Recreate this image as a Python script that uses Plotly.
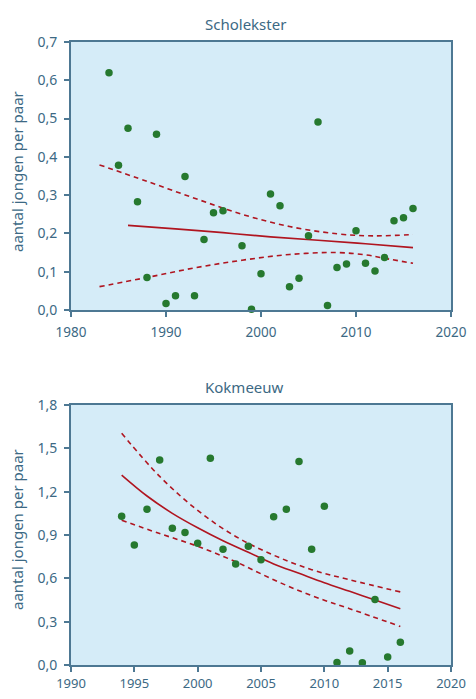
import plotly.graph_objects as go

# ---------------- Scholekster ----------------
sch_years = [1984, 1985, 1986, 1987, 1988, 1989, 1990, 1991, 1992, 1993, 1994, 1995, 1996,
             1998, 1999, 2000, 2001, 2002, 2003, 2004, 2005, 2006, 2007, 2008, 2009, 2010,
             2011, 2012, 2013, 2014, 2015, 2016]
sch_values = [0.620, 0.378, 0.475, 0.283, 0.085, 0.459, 0.017, 0.037, 0.349, 0.037, 0.184, 0.254,
              0.259, 0.168, 0.002, 0.095, 0.303, 0.272, 0.061, 0.083, 0.194, 0.491, 0.012, 0.111,
              0.120, 0.207, 0.122, 0.102, 0.137, 0.233, 0.241, 0.265]
sch_trend_years = [1986, 1991, 1996, 2001, 2006, 2011, 2016]
sch_trend = [0.221, 0.212, 0.202, 0.191, 0.182, 0.173, 0.163]
sch_ci_years = [1983, 1988, 1993, 1998, 2003, 2008, 2011, 2013, 2016]
sch_upper = [0.379, 0.336, 0.292, 0.250, 0.218, 0.199, 0.194, 0.194, 0.197]
sch_lower = [0.061, 0.085, 0.110, 0.130, 0.145, 0.150, 0.144, 0.135, 0.122]

# ---------------- Kokmeeuw ----------------
kok_years = [1994, 1995, 1996, 1997, 1998, 1999, 2000, 2001, 2002, 2003, 2004, 2005, 2006,
             2007, 2008, 2009, 2010, 2011, 2012, 2013, 2014, 2015, 2016]
kok_values = [1.029, 0.831, 1.079, 1.420, 0.946, 0.917, 0.843, 1.431, 0.802, 0.699, 0.822, 0.728,
              1.027, 1.079, 1.409, 0.802, 1.099, 0.018, 0.097, 0.016, 0.454, 0.056, 0.157]
kok_trend_years = [1994, 1996, 1998, 2000, 2002, 2004, 2006, 2008, 2010, 2012, 2014, 2016]
kok_trend = [1.315, 1.170, 1.050, 0.950, 0.860, 0.780, 0.700, 0.635, 0.570, 0.510, 0.450, 0.390]
kok_ci_years = [1994, 1997, 2000, 2003, 2006, 2009, 2012, 2016]
kok_upper = [1.604, 1.306, 1.070, 0.890, 0.760, 0.660, 0.590, 0.506]
kok_lower = [1.002, 0.910, 0.822, 0.715, 0.590, 0.480, 0.390, 0.267]

y_title = "aantal jongen per paar"

# page body has an 8px margin; figure sized to fit the 476x699 window
OFF = 8
W, H = 476 - 2 * OFF, 699 - 2 * OFF
BG = "#d5ecf8"
AX = "#4d7893"
TXT = "#3c6984"
DOT = "#26792f"
LINE = "#b01520"
FONT = "Noto Sans, Open Sans, sans-serif"


def px(x):
    return (x - OFF) / W


def py(y):
    return 1 - (y - OFF) / H


fig = go.Figure()


def add_panel(xa, ya, years, vals, ty, tv, cy, cu, cl):
    fig.add_trace(go.Scatter(x=cy, y=cu, mode="lines", xaxis=xa, yaxis=ya,
                             line=dict(color=LINE, width=1.6, dash="5px,4px", shape="spline"),
                             showlegend=False, hoverinfo="skip"))
    fig.add_trace(go.Scatter(x=cy, y=cl, mode="lines", xaxis=xa, yaxis=ya,
                             line=dict(color=LINE, width=1.6, dash="5px,4px", shape="spline"),
                             showlegend=False, hoverinfo="skip"))
    fig.add_trace(go.Scatter(x=ty, y=tv, mode="lines", xaxis=xa, yaxis=ya,
                             line=dict(color=LINE, width=1.6, shape="spline"),
                             showlegend=False))
    fig.add_trace(go.Scatter(x=years, y=vals, mode="markers", xaxis=xa, yaxis=ya,
                             marker=dict(color=DOT, size=7.5),
                             showlegend=False, cliponaxis=False))


add_panel("x", "y", sch_years, sch_values, sch_trend_years, sch_trend,
          sch_ci_years, sch_upper, sch_lower)
add_panel("x2", "y2", kok_years, kok_values, kok_trend_years, kok_trend,
          kok_ci_years, kok_upper, kok_lower)

xd = [px(71), px(451)]
top_dom = [py(310), py(42)]
bot_dom = [py(665), py(405)]

axis_common = dict(showline=True, linecolor=AX, linewidth=2, mirror=True,
                   ticks="outside", ticklen=5, tickwidth=2, tickcolor=AX,
                   showgrid=False, zeroline=False, automargin=False,
                   ticklabeloverflow="allow")
tick_font = dict(family=FONT, size=14, color=TXT)

fig.update_layout(
    width=W, height=H,
    margin=dict(l=0, r=0, t=0, b=0, pad=0),
    paper_bgcolor="white",
    separators=",.",
    font=dict(family=FONT, color=TXT),
    xaxis=dict(domain=xd, anchor="y", range=[1980, 2020], tickvals=[1980, 1990, 2000, 2010, 2020],
               tickfont=dict(family=FONT, size=13.5, color=TXT), ticklabelstandoff=4,
               **axis_common),
    yaxis=dict(domain=top_dom, anchor="x", range=[0, 0.7],
               tickvals=[0, 0.1, 0.2, 0.3, 0.4, 0.5, 0.6, 0.7],
               tickformat=".1f", tickfont=tick_font, ticklabelstandoff=4, **axis_common),
    xaxis2=dict(domain=xd, anchor="y2", range=[1990, 2020],
                tickvals=[1990, 1995, 2000, 2005, 2010, 2015, 2020],
                tickfont=dict(family=FONT, size=13, color=TXT), ticklabelstandoff=0,
                **axis_common),
    yaxis2=dict(domain=bot_dom, anchor="x2", range=[0, 1.8],
                tickvals=[0, 0.3, 0.6, 0.9, 1.2, 1.5, 1.8], tickformat=".1f",
                tickfont=tick_font, ticklabelstandoff=4, **axis_common),
    plot_bgcolor=BG,
)

titles = [("Scholekster", 245, 24), ("Kokmeeuw", 244, 387)]
for text, x, y in titles:
    fig.add_annotation(xref="paper", yref="paper", x=px(x), y=py(y), text=text,
                       showarrow=False, xanchor="center", yanchor="middle",
                       font=dict(family=FONT, size=15, color=TXT))
for yc in [172, 530]:
    fig.add_annotation(xref="paper", yref="paper", x=px(17), y=py(yc), text=y_title,
                       showarrow=False, textangle=-90, xanchor="center", yanchor="middle",
                       font=dict(family=FONT, size=15, color=TXT))

fig.write_html("out.html")
